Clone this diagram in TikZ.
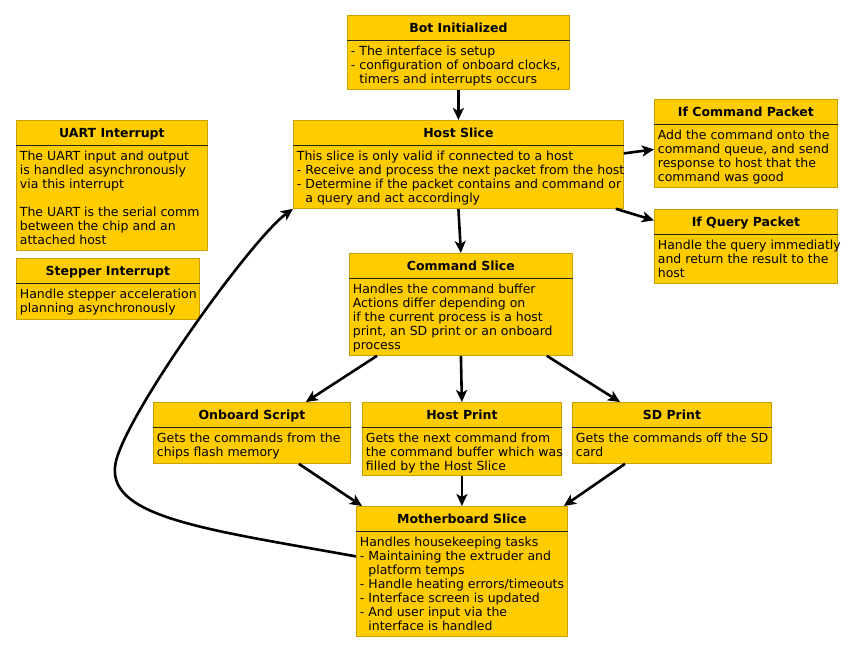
\documentclass[tikz,border=0pt]{standalone}
\usepackage{fontspec}
\setmainfont{DejaVu Sans}
\usetikzlibrary{arrows.meta,positioning}

\definecolor{slicefill}{HTML}{FFCC00}
\definecolor{sliceedge}{HTML}{C8A000}
\def\ind{\hphantom{- }}
\def\boxlist{{bot/347/15/222/74/{Bot Initialized}/{- The interface is setup\\ - configuration of onboard clocks,\\ \ind timers and interrupts occurs}},
  {host/293/120/330/88/{Host Slice}/{This slice is only valid if connected to a host\\ - Receive and process the next packet from the host\\ - Determine if the packet contains and command or\\ \ind a query and act accordingly}},
  {ifcmd/654/99/183/88/{If Command Packet}/{Add the command onto the\\ command queue, and send\\ response to host that the\\ command was good}},
  {ifquery/654/209/183/74/{If Query Packet}/{Handle the query immediatly\\ and return the result to the\\ host}},
  {uart/16/120/191/130/{UART Interrupt}/{The UART input and output\\ is handled asynchronously\\ via this interrupt\\[14pt] The UART is the serial comm\\ between the chip and an\\ attached host}},
  {stepper/16/258/183/61/{Stepper Interrupt}/{Handle stepper acceleration\\ planning asynchronously}},
  {cmd/349/253/223/102/{Command Slice}/{Handles the command buffer\\ Actions differ depending on\\ if the current process is a host\\ print, an SD print or an onboard\\ process}},
  {onboard/153/402/197/61/{Onboard Script}/{Gets the commands from the\\ chips flash memory}},
  {hostprint/362/402/199/73/{Host Print}/{Gets the next command from\\ the command buffer which was\\ filled by the Host Slice}},
  {sdprint/572/402/199/61/{SD Print}/{Gets the commands off the SD\\ card}},
  {mb/356/506/211/130/{Motherboard Slice}/{Handles housekeeping tasks\\ - Maintaining the extruder and\\ \ind platform temps\\ - Handle heating errors/timeouts\\ - Interface screen is updated\\ - And user input via the\\ \ind interface is handled}}}
\tikzstyle{slice} = [rectangle, draw=sliceedge, line width=0.8pt, fill=slicefill, anchor=north west, inner sep=0pt]
\tikzstyle{slice-title} = [anchor=north, minimum height=25pt, inner sep=0pt, text height=9.1pt, text depth=0pt, font=\fontsize{12.5}{14}\selectfont\bfseries]
\tikzstyle{slice-body} = [anchor=north west, align=left, inner xsep=3.5pt, inner ysep=5.3pt, font=\fontsize{12.5}{14}\selectfont]
\tikzstyle{sep} = [draw, line width=0.8pt, black!85]
\tikzstyle{edge} = [draw, line width=2.6pt, -{Stealth[length=12pt,width=11pt,inset=3pt]}]

\begin{document}
\begin{tikzpicture}[x=1pt, y=-1pt]
  \useasboundingbox (0,0) rectangle (854,653);
  \foreach \name/\px/\py/\bw/\bh/\ttl/\txt in \boxlist {
    \node[slice, minimum width=\bw, minimum height=\bh] (\name) at (\px,\py) {};
    \node[slice-title, minimum width=\bw] (\name-t) at (\name.north) {\ttl};
    \path[sep] (\name-t.south west) -- (\name-t.south east);
    \node[slice-body] (\name-b) at (\name-t.south west) {\txt};
  }

  \foreach \source/\sx/\sy/\sink/\tx/\ty in {bot.south/0/0/host.north/0/0,
      host.south/0/0/cmd.north/0/0,
      host.east/0/11/ifcmd.west/0/-6,
      host.south east/-8/0/ifquery.west/0/26,
      cmd.south west/28/0/onboard.north east/-45/0,
      cmd.south/0/0/hostprint.north/0/0,
      cmd.south east/-26/0/sdprint.north west/48/0,
      onboard.south east/-52/0/mb.north west/6/0,
      hostprint.south/0/0/mb.north/0/0,
      sdprint.south west/53/0/mb.north east/-4/0} {
    \path[edge] ([xshift=\sx, yshift=\sy]\source) -- ([xshift=\tx, yshift=\ty]\sink);
  }

  % loop back from the motherboard slice to the host slice
  \coordinate (turn) at (115,467);
  \path[edge] ([yshift=15]mb.west) .. controls (210,530) and (110,518) .. (turn)
    .. controls (118,425) and (250,240) .. (host.south west);
\end{tikzpicture}
\end{document}
